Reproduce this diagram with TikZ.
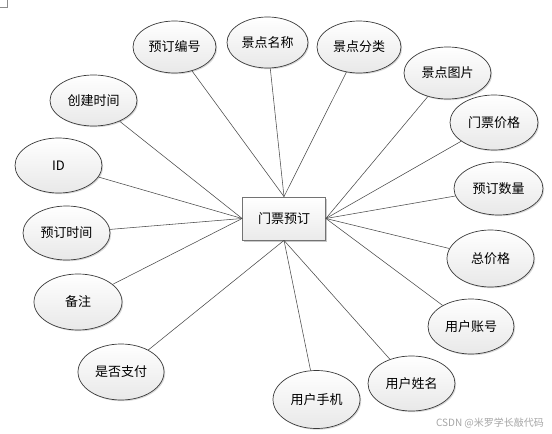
\documentclass[tikz,border=0pt]{standalone}
\usepackage{fontspec}
\setmainfont{Noto Sans CJK SC}
\usetikzlibrary{shapes.geometric,shadows}
\definecolor{edgec}{HTML}{3A3A3A}
\definecolor{linec}{HTML}{4A4A4A}
\tikzset{
  attr/.style={ellipse, draw=edgec, line width=0.7pt, inner sep=0pt,
    top color=white, bottom color=black!9,
    drop shadow={shadow xshift=1.2pt, shadow yshift=-1.2pt, opacity=0.25, fill=black!60},
    font=\fontsize{13}{15}\selectfont},
  entity/.style={rectangle, draw=black!55, line width=0.8pt, inner sep=0pt,
    minimum width=83pt, minimum height=43pt,
    top color=white, bottom color=black!8,
    drop shadow={shadow xshift=1.5pt, shadow yshift=-1.5pt, opacity=0.35, fill=black!60},
    font=\fontsize{13}{15}\selectfont},
  conn/.style={draw=linec, line width=0.55pt}
}
\begin{document}
\begin{tikzpicture}[x=1pt,y=-1pt]
\useasboundingbox (0,0) rectangle (552,434);
\fill[white] (0,0) rectangle (552,434);
\draw[black!45, line width=0.6pt] (0,7) -- (7,7) -- (7,0);

\node[entity] (box) at (284,218.5) {门票预订};

\node[attr, minimum width=83pt, minimum height=52pt] (a1) at (174.5,47) {预订编号};
\node[attr, minimum width=81pt, minimum height=51pt] (a2) at (267.5,42.5) {景点名称};
\node[attr, minimum width=84pt, minimum height=52pt] (a3) at (359,47) {景点分类};
\node[attr, minimum width=87pt, minimum height=52pt] (a4) at (447.5,73) {景点图片};
\node[attr, minimum width=88pt, minimum height=55pt] (a5) at (494,122.5) {门票价格};
\node[attr, minimum width=89pt, minimum height=53pt] (a6) at (498.5,188.5) {预订数量};
\node[attr, minimum width=87pt, minimum height=57pt] (a7) at (490.5,258.5) {总价格};
\node[attr, minimum width=86pt, minimum height=55pt] (a8) at (471,326.5) {用户账号};
\node[attr, minimum width=87pt, minimum height=55pt] (a9) at (411.5,383.5) {用户姓名};
\node[attr, minimum width=87pt, minimum height=58pt] (a10) at (316.5,399.5) {用户手机};
\node[attr, minimum width=86pt, minimum height=56pt] (a11) at (121,372) {是否支付};
\node[attr, minimum width=88pt, minimum height=56pt] (a12) at (78,302) {备注};
\node[attr, minimum width=87pt, minimum height=54pt] (a13) at (66.5,233) {预订时间};
\node[attr, minimum width=87pt, minimum height=55pt] (a14) at (58.5,165.5) {ID};
\node[attr, minimum width=87pt, minimum height=51pt] (a15) at (93.5,100.5) {创建时间};

\draw[conn] (a1) -- (box.north);
\draw[conn] (a2) -- (box.north);
\draw[conn] (a3) -- (box.north);
\draw[conn] (a4) -- (box.east);
\draw[conn] (a5) -- (box.east);
\draw[conn] (a6) -- (box.east);
\draw[conn] (a7) -- (box.east);
\draw[conn] (a8) -- (box.east);
\draw[conn] (a9) -- (box.south);
\draw[conn] (a10) -- (box.south);
\draw[conn] (a11) -- (box.south);
\draw[conn] (a12) -- (box.west);
\draw[conn] (a13) -- (box.west);
\draw[conn] (a14) -- (box.west);
\draw[conn] (a15) -- (box.west);

\node[text=black!35, font=\fontsize{10}{12}\selectfont, inner sep=0pt] (wm) at (490,423) {CSDN @米罗学长敲代码};
\end{tikzpicture}
\end{document}
